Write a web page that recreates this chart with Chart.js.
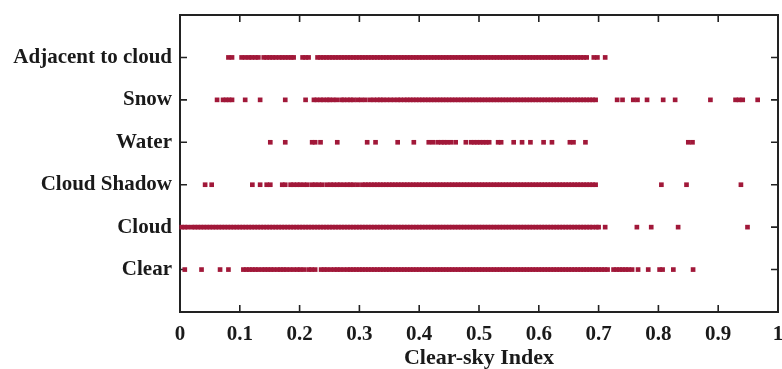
<!DOCTYPE html>
<html>
<head>
<meta charset="utf-8">
<script src="https://cdn.jsdelivr.net/npm/chart.js@4/dist/chart.umd.min.js"></script>
<style>
  body { margin: 0; background: #fff; }
  #wrap { width: 782px; height: 369px; }
</style>
</head>
<body>
<div id="wrap"><canvas id="scatterChart" width="782" height="369"></canvas></div>
<script>
/* ---------------------------------------------------
   data (clear-sky index per pixel class)
----------------------------------------------------- */
var categories = ['Clear', 'Cloud', 'Cloud Shadow', 'Water', 'Snow', 'Adjacent to cloud'];
var xTickLabels = ['0', '0.1', '0.2', '0.3', '0.4', '0.5', '0.6', '0.7', '0.8', '0.9', '1'];
var xTickValues = [0, 0.1, 0.2, 0.3, 0.4, 0.5, 0.6, 0.7, 0.8, 0.9, 1];

var clearX = [0.008,0.036,0.067,0.081,0.106,0.111,0.116,0.121,0.126,0.131,0.137,0.142,0.147,0.152,0.157,
  0.163,0.168,0.173,0.178,0.184,0.19,0.196,0.201,0.207,0.215,0.22,0.226,0.236,0.241,0.246,0.252,0.258,
  0.263,0.268,0.274,0.28,0.285,0.29,0.295,
  0.3,0.305,0.31,0.315,0.32,0.325,0.33,0.335,0.34,0.345,0.35,0.355,0.36,0.365,0.37,0.375,0.38,0.385,0.39,0.395,
  0.4,0.405,0.41,0.415,0.42,0.425,0.43,0.435,0.44,0.445,0.45,0.455,0.46,0.465,0.47,0.475,0.48,0.485,0.49,0.495,
  0.5,0.505,0.51,0.515,0.52,0.525,0.53,0.535,0.54,0.545,0.55,0.555,0.56,0.565,0.57,0.575,0.58,0.585,0.59,0.595,
  0.6,0.605,0.61,0.615,0.62,0.625,0.63,0.635,0.64,0.645,0.65,0.655,0.66,0.665,0.67,0.675,0.68,0.685,0.69,0.695,
  0.7,0.705,0.71,0.715,0.725,0.73,0.735,0.74,0.745,0.75,0.756,0.766,0.783,0.802,0.807,0.825,0.858];

var cloudX = [0.003,0.008,0.013,0.02,0.025,0.03,0.035,0.04,0.045,0.05,
  0.055,0.06,0.065,0.07,0.075,0.08,0.085,0.09,0.095,
  0.1,0.105,0.11,0.115,0.12,0.125,0.13,0.135,0.14,0.145,0.15,0.155,0.16,0.165,0.17,0.175,0.18,0.185,0.19,0.195,
  0.2,0.205,0.21,0.215,0.22,0.225,0.23,0.235,0.24,0.245,0.25,0.255,0.26,0.265,0.27,0.275,0.28,0.285,0.29,0.295,
  0.3,0.305,0.31,0.315,0.32,0.325,0.33,0.335,0.34,0.345,0.35,0.355,0.36,0.365,0.37,0.375,0.38,0.385,0.39,0.395,
  0.4,0.405,0.41,0.415,0.42,0.425,0.43,0.435,0.44,0.445,0.45,0.455,0.46,0.465,0.47,0.475,0.48,0.485,0.49,0.495,
  0.5,0.505,0.51,0.515,0.52,0.525,0.53,0.535,0.54,0.545,0.55,0.555,0.56,0.565,0.57,0.575,0.58,0.585,0.59,0.595,
  0.6,0.605,0.61,0.615,0.62,0.625,0.63,0.635,0.64,0.645,0.65,0.655,0.66,0.665,0.67,0.675,0.68,0.685,0.69,
  0.696,0.7,0.711,0.764,0.788,0.833,0.949];

var shadowX = [0.042,0.053,0.121,0.134,0.145,0.151,0.171,0.176,0.185,0.19,0.196,0.201,0.207,0.213,0.221,
  0.226,0.232,0.238,0.246,0.252,0.257,0.263,0.268,0.274,0.28,0.285,0.29,0.297,
  0.305,0.31,0.315,0.32,0.325,0.33,0.335,0.34,0.345,0.35,0.355,0.36,0.365,0.37,0.375,0.38,0.385,0.39,0.395,
  0.4,0.405,0.41,0.415,0.42,0.425,0.43,0.435,0.44,0.445,0.45,0.455,0.46,0.465,0.47,0.475,0.48,0.485,0.49,0.495,
  0.5,0.505,0.51,0.515,0.52,0.525,0.53,0.535,0.54,0.545,0.55,0.555,0.56,0.565,0.57,0.575,0.58,0.585,0.59,0.595,
  0.6,0.605,0.61,0.615,0.62,0.625,0.63,0.635,0.64,0.645,0.65,0.655,0.66,0.665,0.67,0.675,0.68,0.685,0.69,0.695,
  0.805,0.847,0.938];

var waterX = [0.151,0.176,0.221,0.226,0.235,0.263,0.313,0.327,0.364,0.391,0.416,0.423,0.431,0.437,0.442,
  0.447,0.453,0.461,0.478,0.487,0.492,0.497,0.502,0.507,0.512,0.517,0.532,0.537,0.558,0.572,0.586,
  0.608,0.622,0.652,0.658,0.678,0.85,0.857];

var snowX = [0.062,0.072,0.077,0.082,0.087,0.109,0.134,0.176,0.21,0.224,0.229,0.235,0.24,0.246,0.25,0.256,
  0.262,0.27,0.274,0.28,0.285,0.29,0.297,0.303,0.31,0.318,0.324,0.33,0.335,0.34,0.346,0.352,0.358,0.364,0.369,
  0.375,0.38,0.385,0.39,0.395,
  0.4,0.405,0.41,0.415,0.42,0.425,0.43,0.435,0.44,0.445,0.45,0.455,0.46,0.465,0.47,0.475,0.48,0.485,0.49,0.495,
  0.5,0.505,0.51,0.515,0.52,0.525,0.53,0.535,0.54,0.545,0.55,0.555,0.56,0.565,0.57,0.575,0.58,0.585,0.59,0.595,
  0.6,0.605,0.61,0.615,0.62,0.625,0.63,0.635,0.64,0.645,0.65,0.655,0.66,0.665,0.67,0.675,0.68,0.685,0.69,0.695,
  0.731,0.74,0.758,0.765,0.781,0.808,0.828,0.887,0.929,0.935,0.941,0.966];

var adjacentX = [0.081,0.087,0.103,0.109,0.115,0.12,0.126,0.131,0.14,0.145,0.15,0.155,0.16,0.166,0.171,
  0.176,0.181,0.186,0.19,0.205,0.21,0.215,
  0.23,0.235,0.24,0.245,0.25,0.255,0.26,0.265,0.27,0.275,0.28,0.285,0.29,0.295,
  0.3,0.305,0.31,0.315,0.32,0.325,0.33,0.335,0.34,0.345,0.35,0.355,0.36,0.365,0.37,0.375,0.38,0.385,0.39,0.395,
  0.4,0.405,0.41,0.415,0.42,0.425,0.43,0.435,0.44,0.445,0.45,0.455,0.46,0.465,0.47,0.475,0.48,0.485,0.49,0.495,
  0.5,0.505,0.51,0.515,0.52,0.525,0.53,0.535,0.54,0.545,0.55,0.555,0.56,0.565,0.57,0.575,0.58,0.585,0.59,0.595,
  0.6,0.605,0.61,0.615,0.62,0.625,0.63,0.635,0.64,0.645,0.65,0.655,0.66,0.665,0.67,0.675,0.68,
  0.692,0.698,0.711];

var rowValues = [clearX, cloudX, shadowX, waterX, snowX, adjacentX];

/* ---------------------------------------------------
   frame + inward ticks
----------------------------------------------------- */
var framePlugin = {
  id: 'frame',
  beforeDatasetsDraw: function (chart) {
    var ctx = chart.ctx;
    var a = chart.chartArea;
    var xs = chart.scales.x, ys = chart.scales.y;
    ctx.save();
    ctx.strokeStyle = '#222';
    ctx.lineWidth = 2;
    ctx.strokeRect(a.left, a.top, a.right - a.left, a.bottom - a.top);
    ctx.lineWidth = 1.6;
    ctx.beginPath();
    for (var i = 1; i < xTickValues.length - 1; i++) {
      var px = xs.getPixelForValue(xTickValues[i]);
      ctx.moveTo(px, a.bottom); ctx.lineTo(px, a.bottom - 7);
      ctx.moveTo(px, a.top); ctx.lineTo(px, a.top + 7);
    }
    for (var j = 0; j < categories.length; j++) {
      var py = ys.getPixelForValue(j + 1);
      ctx.moveTo(a.left, py); ctx.lineTo(a.left + 7, py);
      ctx.moveTo(a.right, py); ctx.lineTo(a.right - 7, py);
    }
    ctx.stroke();
    ctx.restore();
  }
};

/* ---------------------------------------------------
   scatter chart
----------------------------------------------------- */
function createChart()
{
  var datasets = [];
  for (var k = 0; k < categories.length; k++) {
    datasets.push({
      label: categories[k],
      data: rowValues[k].map(function (v) { return { x: v, y: k + 1 }; }),
      backgroundColor: '#a11839',
      pointStyle: 'rect',
      pointRadius: 3.3,
      pointBorderWidth: 0,
      clip: false
    });
  }
  var font = { family: "'Liberation Serif', 'Times New Roman', serif", weight: 'bold', size: 21 };

  var ctxS = document.getElementById('scatterChart').getContext('2d');
  new Chart(ctxS, {
    type: 'scatter',
    data: { datasets: datasets },
    options: {
      responsive: false,
      animation: false,
      devicePixelRatio: 1,
      layout: { padding: { top: 15, right: 4, left: 0, bottom: 0 } },
      plugins: { legend: { display: false }, tooltip: { enabled: false } },
      scales: {
        x: {
          type: 'linear', min: 0, max: 1,
          afterBuildTicks: function (s) { s.ticks = xTickValues.map(function (v) { return { value: v }; }); },
          afterFit: function (s) { s.height = 57; s.paddingRight = 0; s.paddingLeft = 0; },
          grid: { display: false, drawTicks: false },
          border: { display: false },
          ticks: {
            color: '#1a1a1a', font: font, padding: 10, maxRotation: 0, autoSkip: false,
            callback: function (v, i) { return xTickLabels[i]; }
          },
          title: {
            display: true, text: 'Clear-sky Index', color: '#1a1a1a',
            font: { family: font.family, weight: 'bold', size: 22 }, padding: { top: 0, bottom: -3 }
          }
        },
        y: {
          type: 'linear', min: 0, max: 7,
          afterBuildTicks: function (s) {
            s.ticks = categories.map(function (c, i) { return { value: i + 1 }; });
          },
          afterFit: function (s) { s.width = 180; s.paddingTop = 0; s.paddingBottom = 0; },
          grid: { display: false, drawTicks: false },
          border: { display: false },
          ticks: {
            color: '#1a1a1a', font: font, padding: 8, autoSkip: false,
            callback: function (v) { return categories[v - 1]; }
          }
        }
      }
    },
    plugins: [framePlugin]
  });
}

createChart();
</script>
</body>
</html>
